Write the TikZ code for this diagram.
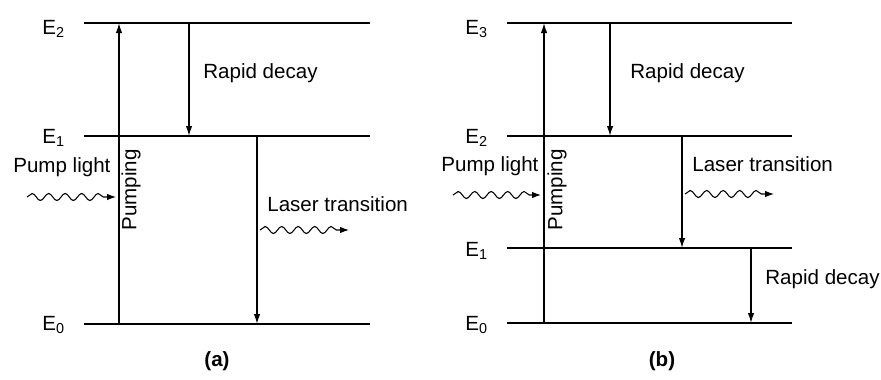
\documentclass[tikz,border=0pt]{standalone}
\usepackage{fontspec}
\setmainfont{Liberation Sans}
\usetikzlibrary{arrows.meta,positioning,calc,decorations.pathmorphing}
\tikzset{
    levelLine/.style={line width=1.1pt, draw=black},
    transArrow/.style={-{Latex[length=2mm,width=1.3mm]}, line width=0.8pt},
    waveArrow/.style={
        -{Latex[length=1.8mm,width=1.3mm]},
        line width=0.6pt,
        decorate,
        decoration={snake, amplitude=0.07cm, segment length=0.33cm, post length=1.8mm}
    },
    levelLabel/.style={font=\fontsize{11.7}{14}\selectfont, anchor=west, inner sep=0pt},
    txtLabel/.style={font=\fontsize{11.7}{14}\selectfont, inner sep=0pt},
    capLabel/.style={font=\fontsize{11.7}{14}\selectfont\bfseries, inner sep=0pt}
}
\begin{document}
\begin{tikzpicture}[x=0.02cm, y=-0.02cm]
    \useasboundingbox (0,0) rectangle (881,379);
    % (a) three-level scheme
    \foreach \i/\y/\ly in {2/23/29, 1/136/138, 0/324/325} {
        \coordinate (aL\i) at (84,\y);
        \coordinate (aR\i) at (370,\y);
        \draw[levelLine] (aL\i) -- (aR\i);
        \node[levelLabel] (aE\i) at (42,\ly) {E\textsubscript{\i}};
    }
    \coordinate (aPumpS) at (119,324);
    \coordinate (aPumpE) at (119,23);
    \coordinate (aDecS) at (189,23);
    \coordinate (aDecE) at (189,136);
    \coordinate (aLasS) at (257,136);
    \coordinate (aLasE) at (257,324);
    \draw[transArrow] (aPumpS) -- (aPumpE);
    \draw[transArrow] (aDecS) -- (aDecE);
    \draw[transArrow] (aLasS) -- (aLasE);
    \node[txtLabel, anchor=west] (aDecTxt) at (203,73) {Rapid decay};
    \node[txtLabel, anchor=west] (aLasTxt) at (267,204) {Laser transition};
    \node[txtLabel, anchor=west] (aPumpTxt) at (13,167) {Pump light};
    \node[txtLabel, rotate=90] (aPumping) at (131,190) {Pumping};
    \coordinate (aWinS) at (27,197);
    \coordinate (aWinE) at (116,197);
    \coordinate (aWoutS) at (260,230);
    \coordinate (aWoutE) at (349,230);
    \draw[waveArrow] (aWinS) -- (aWinE);
    \draw[waveArrow] (aWoutS) -- (aWoutE);
    \node[capLabel] (aCap) at (217,361) {(a)};
    % (b) four-level scheme
    \foreach \i/\y/\ly in {3/23/29, 2/136/138, 1/248/251, 0/323/325} {
        \coordinate (bL\i) at (507,\y);
        \coordinate (bR\i) at (792,\y);
        \draw[levelLine] (bL\i) -- (bR\i);
        \node[levelLabel] (bE\i) at (465,\ly) {E\textsubscript{\i}};
    }
    \coordinate (bPumpS) at (544,323);
    \coordinate (bPumpE) at (544,23);
    \coordinate (bDecS) at (610,23);
    \coordinate (bDecE) at (610,136);
    \coordinate (bLasS) at (682,136);
    \coordinate (bLasE) at (682,248);
    \coordinate (bDec2S) at (751,248);
    \coordinate (bDec2E) at (751,323);
    \draw[transArrow] (bPumpS) -- (bPumpE);
    \draw[transArrow] (bDecS) -- (bDecE);
    \draw[transArrow] (bLasS) -- (bLasE);
    \draw[transArrow] (bDec2S) -- (bDec2E);
    \node[txtLabel, anchor=west] (bDecTxt) at (630,73) {Rapid decay};
    \node[txtLabel, anchor=west] (bLasTxt) at (692,164) {Laser transition};
    \node[txtLabel, anchor=west] (bDec2Txt) at (765,279) {Rapid decay};
    \node[txtLabel, anchor=west] (bPumpTxt) at (441,166) {Pump light};
    \node[txtLabel, rotate=90] (bPumping) at (557,190) {Pumping};
    \coordinate (bWinS) at (453,195);
    \coordinate (bWinE) at (541,195);
    \coordinate (bWoutS) at (685,194);
    \coordinate (bWoutE) at (774,194);
    \draw[waveArrow] (bWinS) -- (bWinE);
    \draw[waveArrow] (bWoutS) -- (bWoutE);
    \node[capLabel] (bCap) at (662,361) {(b)};
\end{tikzpicture}
\end{document}
